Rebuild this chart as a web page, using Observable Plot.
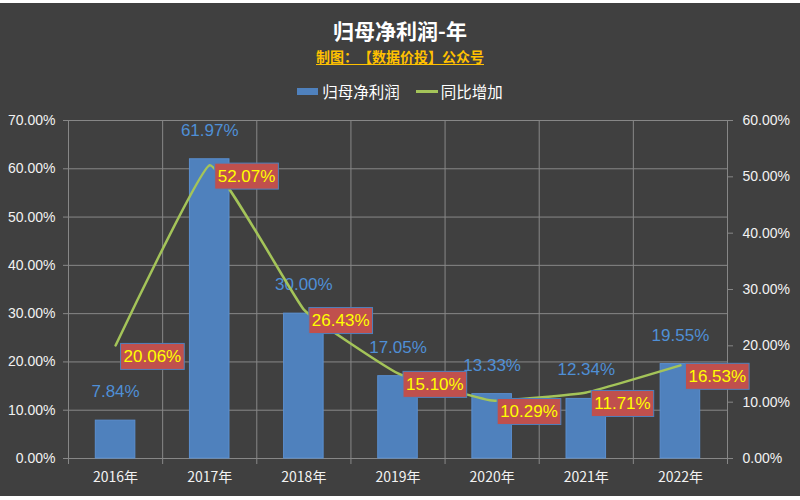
<!DOCTYPE html>
<html>
<head>
<meta charset="utf-8">
<script src="https://cdn.jsdelivr.net/npm/d3@7"></script>
<script src="https://cdn.jsdelivr.net/npm/@observablehq/plot@0.6"></script>
<style>
  html, body { margin: 0; padding: 0; }
  body { width: 800px; height: 500px; background: #404040; position: relative; overflow: hidden;
         font-family: "Liberation Sans", "Noto Sans CJK SC", sans-serif; }
  .strip { position: absolute; left: 0; width: 800px; background: #ffffff; }
  #title { position: absolute; left: 0; width: 800px; top: 17px; text-align: center; color: #ffffff;
           font-family: "Noto Sans CJK SC", sans-serif; font-weight: bold; font-size: 21px; line-height: 26px; }
  #subtitle { position: absolute; left: 0; width: 800px; top: 47px; text-align: center; color: #ffc000;
              font-family: "Noto Sans CJK SC", sans-serif; font-weight: bold; font-size: 14px; line-height: 18px;
              text-spacing-trim: space-all; }
  #subtitle span { text-decoration: underline; text-underline-offset: 2px; }
  #legend { position: absolute; left: 0; width: 800px; top: 80px; display: flex; justify-content: center;
            align-items: center; color: #ffffff; font-family: "Noto Sans CJK SC", sans-serif; font-size: 15.5px; line-height: 22px; }
  .sw-bar { width: 21px; height: 7px; background: #4f81bd; margin-right: 4px; }
  .sw-line { width: 22px; height: 3px; background: #a4c459; margin-right: 3px; margin-left: 16px; }
  #plot { position: absolute; left: 0; top: 105px; }
</style>
</head>
<body>
<div class="strip" style="top:0;height:3px"></div>
<div class="strip" style="top:496px;height:4px"></div>
<div id="title">归母净利润-年</div>
<div id="subtitle"><span>制图：【数据价投】公众号</span></div>
<div id="legend"><div class="sw-bar"></div><span>归母净利润</span><div class="sw-line"></div><span>同比增加</span></div>
<div id="plot"></div>
<script>
const years = ["2016年", "2017年", "2018年", "2019年", "2020年", "2021年", "2022年"];
const netProfit = [7.84, 61.97, 30.00, 17.05, 13.33, 12.34, 19.55];
const yoyGrowth = [20.06, 52.07, 26.43, 15.10, 10.29, 11.71, 16.53];
const leftTicks = [0, 10, 20, 30, 40, 50, 60, 70];
const rightTicks = [0, 10, 20, 30, 40, 50, 60];

const leftMax = 70, rightMax = 60;
const k = leftMax / rightMax;
const rows = years.map((year, i) => ({ i, year, profit: netProfit[i], rate: yoyGrowth[i] }));
const pct = v => v.toFixed(2) + "%";
const gridColor = "#878787";

const chart = Plot.plot({
  width: 800,
  height: 395,
  marginTop: 15,
  marginBottom: 42,
  marginLeft: 68,
  marginRight: 73,
  style: { background: "transparent", color: "#f2f2f2", fontFamily: "'Liberation Sans', 'Noto Sans CJK SC', sans-serif" },
  x: { type: "linear", domain: [0, years.length], axis: null },
  y: { domain: [0, leftMax], axis: null },
  marks: [
    Plot.ruleY(leftTicks, { stroke: gridColor, strokeWidth: 1 }),
    Plot.ruleX(d3.range(years.length + 1), { stroke: gridColor, strokeWidth: 1 }),
    Plot.axisX({ ticks: d3.range(years.length + 1), tickSize: 6, tickFormat: () => "", stroke: gridColor, label: null }),
    Plot.axisX({ ticks: years.map((_, i) => i + 0.5), tickSize: 0, tickPadding: 14, tickFormat: v => years[Math.floor(v)],
                 fontSize: 14, fill: "#f2f2f2", label: null, fontFamily: "'Noto Sans CJK SC', sans-serif" }),
    Plot.axisY({ anchor: "left", ticks: leftTicks, tickSize: 5, tickPadding: 8, tickFormat: pct,
                 fontSize: 14, fill: "#f2f2f2", stroke: gridColor, label: null }),
    Plot.axisY({ anchor: "right", ticks: rightTicks.map(v => v * k), tickSize: 5, tickPadding: 10,
                 tickFormat: v => pct(v / k), fontSize: 14, fill: "#f2f2f2", stroke: gridColor, label: null }),
    Plot.rectY(rows, { x1: d => d.i + 0.29, x2: d => d.i + 0.71, y1: 0, y2: "profit",
                       fill: "#4f81bd", stroke: "#5a8fd0", strokeWidth: 1 }),
    Plot.text(rows, { x: d => d.i + 0.5, y: "profit", text: d => pct(d.profit), dy: -29,
                      fill: "#4f8fd6", fontSize: 17 }),
    Plot.line(rows, { x: d => d.i + 0.5, y: d => d.rate * k, stroke: "#a4c459", strokeWidth: 2.5,
                      curve: "cardinal", tension: 0.7 }),
    Plot.text(rows, { x: d => d.i + 0.5, y: d => d.rate * k, text: d => pct(d.rate), textAnchor: "start",
                      dx: 8, dy: 11, fill: "#ffff00", fontSize: 17 })
  ]
});
document.getElementById("plot").append(chart);

const textGroups = chart.querySelectorAll('g[aria-label="text"]');
const g = textGroups[textGroups.length - 1];
if (g) {
  g.querySelectorAll("text").forEach(t => {
    const b = t.getBBox();
    const r = document.createElementNS("http://www.w3.org/2000/svg", "rect");
    r.setAttribute("x", b.x - 3);
    r.setAttribute("y", b.y - 3.5);
    r.setAttribute("width", b.width + 6);
    r.setAttribute("height", b.height + 7);
    r.setAttribute("fill", "#c0504d");
    r.setAttribute("stroke", "#4f81bd");
    r.setAttribute("stroke-width", 1);
    const tr = t.getAttribute("transform");
    if (tr) r.setAttribute("transform", tr);
    t.parentNode.insertBefore(r, t);
  });
}
</script>
</body>
</html>
